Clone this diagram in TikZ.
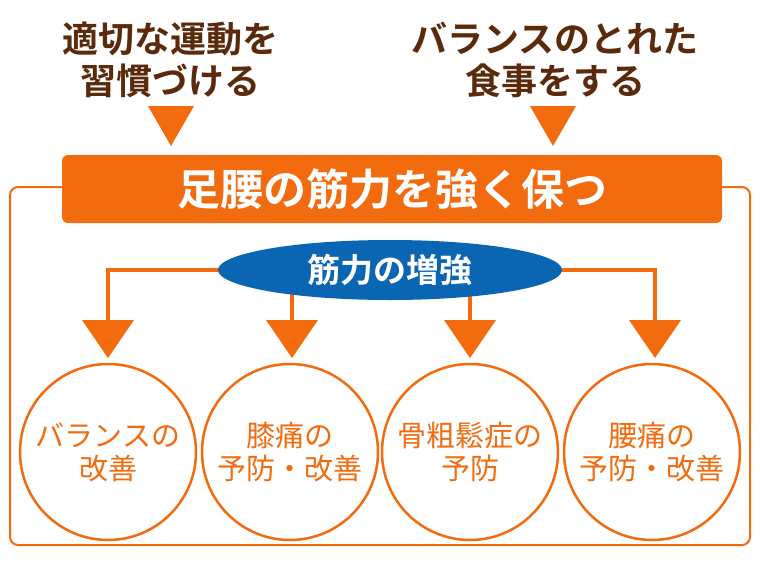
\documentclass[tikz,border=0pt]{standalone}
\usetikzlibrary{shapes.geometric}
\usepackage{fontspec}
\newfontfamily\cjk{Noto Sans CJK JP Bold}
\newfontfamily\cjkr{Noto Sans CJK JP}
\definecolor{org}{HTML}{F26B0F}
\definecolor{brn}{HTML}{5A2A0A}
\definecolor{blu}{HTML}{0A66B2}
\begin{document}
\begin{tikzpicture}[x=1pt,y=-1pt,
 toptxt/.style={text=brn,font=\cjk\fontsize{36}{42}\selectfont,align=center},
 tri/.style={fill=org,draw=none},
 circ/.style={circle,draw=org,line width=2.5pt,fill=white,minimum size=176pt,text=org,font=\cjkr\fontsize{29}{33}\selectfont,align=center,inner sep=0pt},
 ln/.style={draw=org,line width=4pt}]
\useasboundingbox (0,0) rectangle (760,570);
\draw[org,line width=2pt,rounded corners=8pt] (10,187) rectangle (750,545);
\node[toptxt] (t1) at (170,60) {適切な運動を\\習慣づける};
\node[toptxt] (t2) at (555,60) {バランスのとれた\\食事をする};
\fill[tri] (148,106) -- (194,106) -- (171,146) -- cycle;
\fill[tri] (530,106) -- (576,106) -- (553,146) -- cycle;
\node[fill=org,rounded corners=6pt,minimum width=660pt,minimum height=68pt,text=white,font=\cjk\fontsize{43}{46}\selectfont] (ban) at (392,189) {足腰の筋力を強く保つ};
\node[circ] (c1) at (108,452) {バランスの\\改善};
\node[circ] (c2) at (290,452) {膝痛の\\予防・改善};
\node[circ] (c3) at (470,452) {骨粗鬆症の\\予防};
\node[circ] (c4) at (652,452) {腰痛の\\予防・改善};
\coordinate (a1) at (108,320); \coordinate (a2) at (292,320);
\coordinate (a3) at (470,320); \coordinate (a4) at (655,320);
\draw[ln] (300,270) -| (a1);
\draw[ln] (a2) -- (292,285);
\draw[ln] (a3) -- (470,285);
\draw[ln] (480,270) -| (a4);
\foreach \a in {a1,a2,a3,a4}{\fill[tri] ([xshift=-26pt]\a) -- ([xshift=26pt]\a) -- ([yshift=-38pt]\a) -- cycle;}
\node[ellipse,fill=blu,minimum width=344pt,minimum height=60pt,text=white,font=\cjk\fontsize{33}{36}\selectfont] (e) at (390,270) {筋力の増強};
\end{tikzpicture}
\end{document}
